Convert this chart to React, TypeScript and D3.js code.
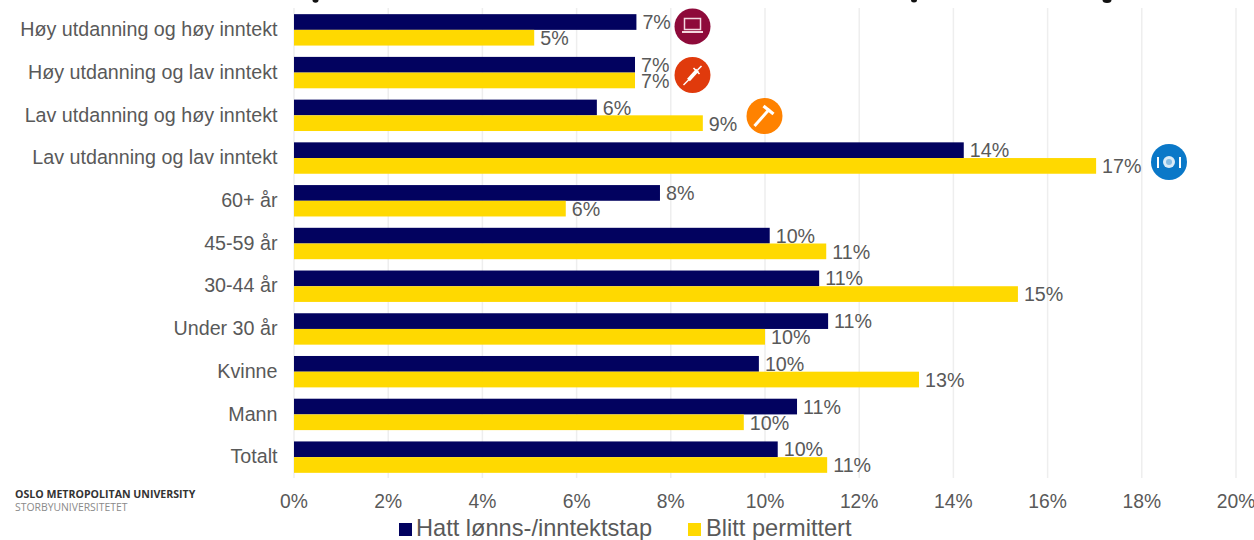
import React from "react";
import * as d3 from "d3";

const categories = ["Høy utdanning og høy inntekt","Høy utdanning og lav inntekt","Lav utdanning og høy inntekt","Lav utdanning og lav inntekt","60+ år","45-59 år","30-44 år","Under 30 år","Kvinne","Mann","Totalt"];
const tapValues = [7.27,7.24,6.43,14.22,7.77,10.1,11.15,11.34,9.87,10.68,10.27];
const permValues = [5.1,7.24,8.68,17.03,5.77,11.3,15.37,10,13.27,9.55,11.32];
const tickValues = [0,2,4,6,8,10,12,14,16,18,20];
const seriesNames = ["Hatt lønns-/inntektstap","Blitt permittert"];
const NAVY = "#02025f";
const YELLOW = "#ffd900";
const TXT = "#595959";
const FONT = "'Liberation Sans', Arial, sans-serif";

const x = d3.scaleLinear().domain([0,20]).range([294,1236]);
const y = d3.scaleBand().domain(categories).range([8.5,478.5]).paddingInner(0).paddingOuter(0);
const barH = 15.7;

function Badge({cx,cy,r,fill,children}:{cx:number,cy:number,r:number,fill:string,children?:React.ReactNode}) {
  return <g transform={`translate(${cx},${cy})`}><circle r={r} fill={fill}/>{children}</g>;
}

export default function App() {
  return (
    <svg width={1254} height={540} style={{position:"fixed",left:0,top:0,background:"#fff"}} fontFamily={FONT}>
      {tickValues.map(t => <line key={t} x1={x(t)} x2={x(t)} y1={8} y2={478} stroke="#eeeeee" strokeWidth={1.5}/>)}
      <ellipse cx={315.5} cy={0} rx={3} ry={2.8} fill="#111"/>
      <ellipse cx={914} cy={0} rx={3} ry={2.5} fill="#111"/>
      <ellipse cx={1107} cy={0} rx={4.5} ry={3} fill="#111"/>
      {categories.map((c,i) => {
        const cy = y(c)! + y.bandwidth()/2;
        return <g key={c}>
          <rect x={x(0)} y={cy-barH} width={x(tapValues[i])-x(0)} height={barH} fill={NAVY}/>
          <rect x={x(0)} y={cy} width={x(permValues[i])-x(0)} height={barH} fill={YELLOW}/>
          <text x={x(tapValues[i])+6} y={cy-6} dominantBaseline="middle" fontSize={19.7} fill={TXT}>{d3.format(".0f")(tapValues[i])}%</text>
          <text x={x(permValues[i])+6} y={cy+10} dominantBaseline="middle" fontSize={19.7} fill={TXT}>{d3.format(".0f")(permValues[i])}%</text>
          <text x={277.5} y={cy+1} dominantBaseline="middle" textAnchor="end" fontSize={19.7} fill={TXT}>{c}</text>
        </g>;
      })}
      {tickValues.map(t => <text key={t} x={x(t)} y={503} dominantBaseline="middle" textAnchor="middle" fontSize={19.3} fill={TXT}>{t}%</text>)}
      <rect x={399} y={523} width={13} height={13} fill={NAVY}/>
      <text x={416} y={530} dominantBaseline="middle" fontSize={23.6} fill={TXT}>{seriesNames[0]}</text>
      <rect x={688} y={523} width={13} height={13} fill={YELLOW}/>
      <text x={706} y={530} dominantBaseline="middle" fontSize={23.6} fill={TXT}>{seriesNames[1]}</text>
      <text x={15} y={498} fontSize={10.6} fontWeight={700} fill="#333" fontFamily="'Open Sans', sans-serif">OSLO METROPOLITAN UNIVERSITY</text>
      <text x={15} y={511} fontSize={10.4} fill="#8a8a8a" fontFamily="'Open Sans', sans-serif">STORBYUNIVERSITETET</text>
      <Badge cx={692.5} cy={26.5} r={18} fill="#8e0a3a">
        <rect x={-8} y={-8} width={16} height={11} fill="none" stroke="#f3d6df" strokeWidth={1.5}/>
        <rect x={-10.5} y={4.5} width={21} height={2} fill="#f3d6df"/>
      </Badge>
      <Badge cx={692.5} cy={75} r={18} fill="#e03a0c">
        <line x1={-9} y1={10} x2={-3} y2={4} stroke="#fff" strokeWidth={1.4}/>
        <line x1={-4} y1={5} x2={5} y2={-5} stroke="#fff" strokeWidth={3.8}/>
        <line x1={5} y1={-5} x2={9} y2={-9} stroke="#fff" strokeWidth={1.6}/>
        <line x1={1} y1={-7} x2={7} y2={-1} stroke="#fff" strokeWidth={1.6}/>
      </Badge>
      <Badge cx={764.5} cy={116} r={18} fill="#ff8200">
        <line x1={-10} y1={10} x2={5} y2={-7} stroke="#fff" strokeWidth={3}/>
        <line x1={-1} y1={-10} x2={9} y2={-2} stroke="#fff" strokeWidth={3.2}/>
      </Badge>
      <Badge cx={1169} cy={162} r={18} fill="#0a78c8">
        <circle r={6} fill="#fff" opacity={0.85}/>
        <circle r={3} fill="#0a78c8" opacity={0.4}/>
        <line x1={-11} y1={-5} x2={-11} y2={6} stroke="#fff" strokeWidth={2}/>
        <line x1={11} y1={-5} x2={11} y2={6} stroke="#fff" strokeWidth={2}/>
      </Badge>
    </svg>
  );
}
